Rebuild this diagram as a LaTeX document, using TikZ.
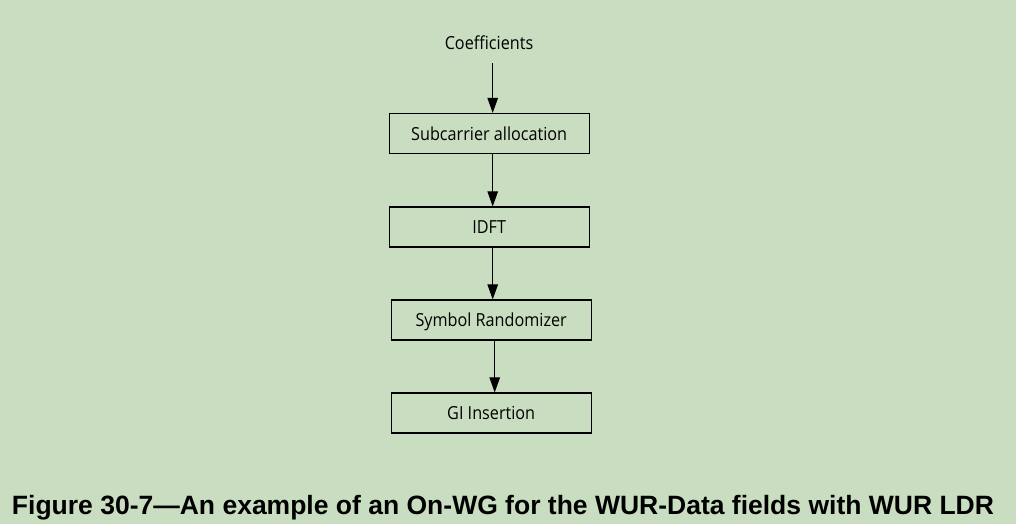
\documentclass[tikz,border=0pt]{standalone}
\usepackage{fontspec}
\setmainfont{Liberation Sans}
\newfontfamily\boxfont{Open Sans}[FakeStretch=0.9]
\usetikzlibrary{arrows.meta}
\definecolor{bgcol}{HTML}{C9DEC0}
\tikzset{
  stepbox/.style={draw=black, line width=1.2pt, minimum width=200pt, minimum height=40pt,
    inner sep=0pt, font=\boxfont\fontsize{18}{21}\selectfont, text height=13pt, text depth=0pt},
  flow/.style={line width=1pt, -{Triangle[length=15pt,width=10.5pt]}}
}
\begin{document}
\begin{tikzpicture}[x=1pt,y=-1pt]
\fill[bgcol] (0,0) rectangle (1016,524);
\useasboundingbox (0,0) rectangle (1016,524);
\node[anchor=base, font=\boxfont\fontsize{18}{21}\selectfont, inner sep=0pt] (coef) at (489,49.3) {Coefficients};
\coordinate (cstart) at (492.7,63);
\node[stepbox] (sa) at (489.2,133.5) {Subcarrier allocation};
\node[stepbox] (idft) at (489.2,227) {IDFT};
\node[stepbox] (sr) at (491.2,320) {Symbol Randomizer};
\node[stepbox] (gi) at (491.2,413) {GI Insertion};
\draw[flow] (cstart) -- ([xshift=3.5pt]sa.north);
\draw[flow] ([xshift=3.5pt]sa.south) -- ([xshift=3.5pt]idft.north);
\draw[flow] ([xshift=3.5pt]idft.south) -- ([xshift=1.5pt]sr.north);
\draw[flow] ([xshift=3.5pt]sr.south) -- ([xshift=3.5pt]gi.north);
\node[anchor=base, inner sep=0pt, font=\bfseries\fontsize{26.5}{30}\selectfont] (cap) at (503,514) {Figure 30-7—An example of an On-WG for the WUR-Data fields with WUR LDR};
\end{tikzpicture}
\end{document}
